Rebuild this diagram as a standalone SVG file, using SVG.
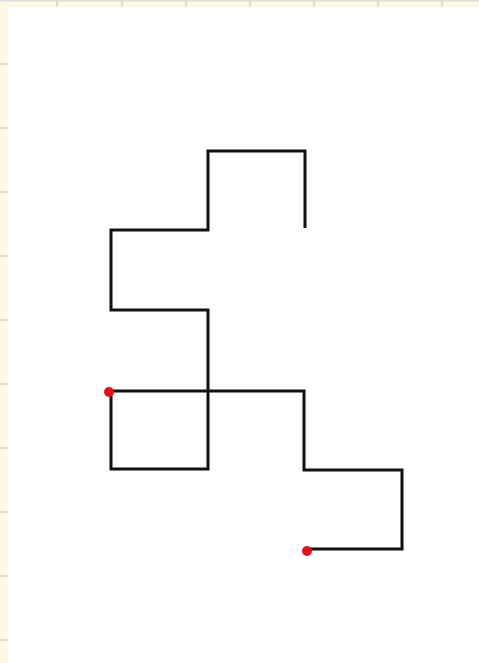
<svg xmlns="http://www.w3.org/2000/svg" width="479" height="663" viewBox="0 0 479 663">
<style>
.bg{fill:#ffffff}
.strip{fill:#fff8e3}
.sep{stroke:#dcdcdc;stroke-width:2}
.line{fill:none;stroke:#111111;stroke-width:3;stroke-linejoin:miter}
.dot{fill:#e0101c}
</style>
<rect class="bg" x="0" y="0" width="479" height="663"/>
<g id="sheet-frame">
<rect class="strip" x="0" y="0" width="479" height="7"/>
<rect class="strip" x="0" y="0" width="8" height="663"/>
<line class="sep" x1="0" y1="0.5" x2="479" y2="0.5" stroke-width="1"/>
<line class="sep" x1="57" y1="0" x2="57" y2="7"/>
<line class="sep" x1="122" y1="0" x2="122" y2="7"/>
<line class="sep" x1="186" y1="0" x2="186" y2="7"/>
<line class="sep" x1="250" y1="0" x2="250" y2="7"/>
<line class="sep" x1="314" y1="0" x2="314" y2="7"/>
<line class="sep" x1="378" y1="0" x2="378" y2="7"/>
<line class="sep" x1="442" y1="0" x2="442" y2="7"/>
<line class="sep" x1="0" y1="64" x2="8" y2="64"/>
<line class="sep" x1="0" y1="128" x2="8" y2="128"/>
<line class="sep" x1="0" y1="192" x2="8" y2="192"/>
<line class="sep" x1="0" y1="256" x2="8" y2="256"/>
<line class="sep" x1="0" y1="320" x2="8" y2="320"/>
<line class="sep" x1="0" y1="384" x2="8" y2="384"/>
<line class="sep" x1="0" y1="448" x2="8" y2="448"/>
<line class="sep" x1="0" y1="512" x2="8" y2="512"/>
<line class="sep" x1="0" y1="576" x2="8" y2="576"/>
<line class="sep" x1="0" y1="640" x2="8" y2="640"/>
</g>
<g id="connectors">
<path class="line" d="M305,228 V151 H208 V230 H111 V310 H208 V469 H111 V391 H304 V470 H402 V549 H307"/>
</g>
<g id="start-point"><circle class="dot" cx="109" cy="392" r="5"/></g>
<g id="end-point"><circle class="dot" cx="307" cy="551" r="5"/></g>
</svg>
